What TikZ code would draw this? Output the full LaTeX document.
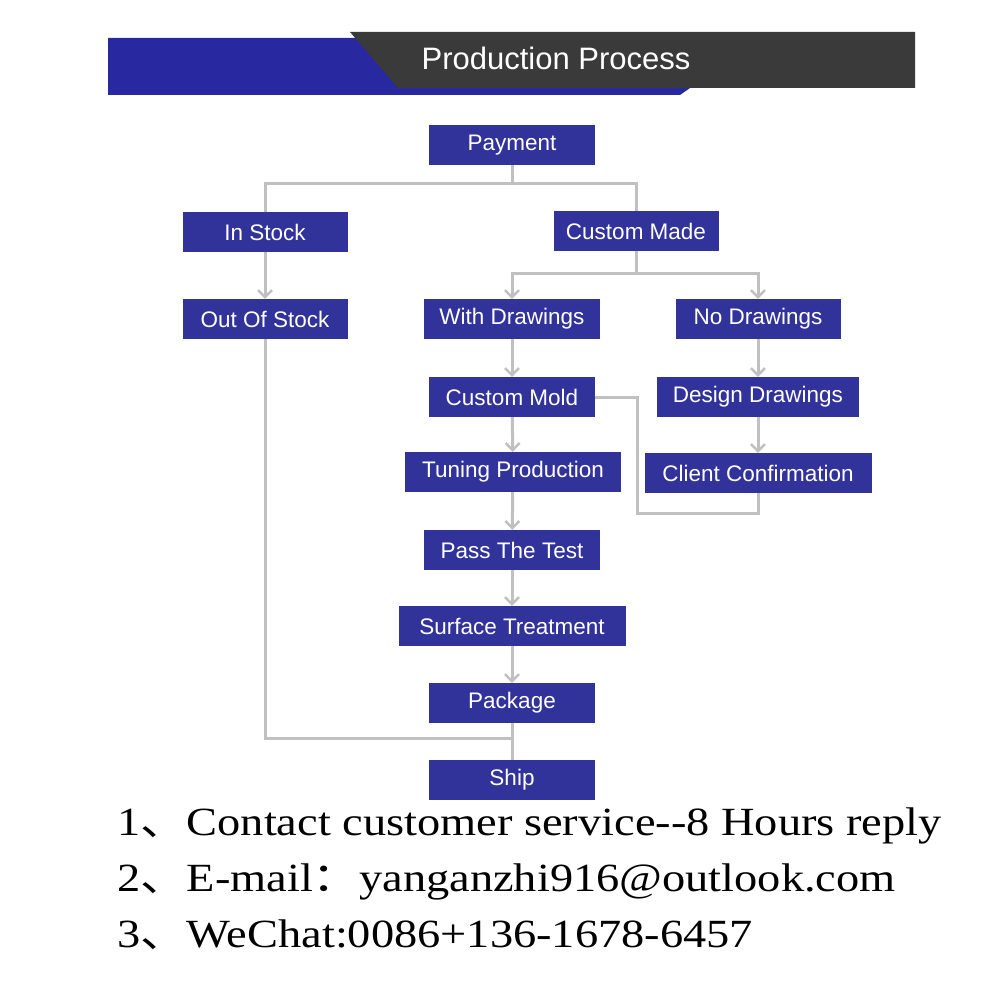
\documentclass[tikz,border=0pt]{standalone}
\usepackage{fontspec}
\setmainfont{Liberation Serif}
\newfontfamily\boxfont{Liberation Sans}
\newfontfamily\cjk{Noto Sans CJK SC}
\usetikzlibrary{arrows.meta}
\definecolor{stepblue}{RGB}{50,50,155}
\definecolor{bandblue}{RGB}{40,40,160}
\definecolor{banddark}{RGB}{58,58,58}
\definecolor{linkgray}{RGB}{192,192,192}
\tikzset{
  stepbox/.style={draw=none, fill=stepblue, text=white, font=\boxfont\fontsize{22.5}{25}\selectfont,
    minimum height=40, inner sep=0},
  link/.style={draw=linkgray, line width=3},
  flow/.style={link, -{Straight Barb[length=7,width=14,line width=2.5]}},
  note/.style={anchor=base west, xscale=1.16, font=\fontsize{40}{44}\selectfont}
}
\begin{document}
\begin{tikzpicture}[x=1pt,y=-1pt]
\useasboundingbox (0,0) rectangle (1000,1000);
\fill[white] (0,0) rectangle (1000,1000);

% header
    \fill[bandblue] (108,38) -- (690,38) -- (690,88) -- (680,95) -- (108,95) -- cycle;
    \fill[banddark] (350,32) -- (915,32) -- (915,88) -- (398,88) -- cycle;
    \node[text=white, font=\fontsize{31}{34}\selectfont\boxfont] (title) at (556,58) {Production Process};

% steps
    \node[stepbox, minimum width=166] (pay) at (512,145) {Payment};
    \node[stepbox, minimum width=165] (stock) at (265,232) {In Stock};
    \node[stepbox, minimum width=165] (custom) at (636,231) {Custom Made};
    \node[stepbox, minimum width=165] (out) at (265,319) {Out Of Stock};
    \node[stepbox, minimum width=176] (with) at (512,319) {With Drawings};
    \node[stepbox, minimum width=165] (nodraw) at (758,319) {No Drawings};
    \node[stepbox, minimum width=166] (mold) at (512,397) {Custom Mold};
    \node[stepbox, minimum width=202] (design) at (758,397) {Design Drawings};
    \node[stepbox, minimum width=216] (tune) at (513,472) {Tuning Production};
    \node[stepbox, minimum width=227] (client) at (758,473) {Client Confirmation};
    \node[stepbox, minimum width=176] (test) at (512,550) {Pass The Test};
    \node[stepbox, minimum width=227] (surface) at (512,626) {Surface Treatment};
    \node[stepbox, minimum width=166] (pack) at (512,703) {Package};
    \node[stepbox, minimum width=166] (ship) at (512,780) {Ship};

% connectors
    \coordinate (fork1) at (512,184);
    \coordinate (fork2) at (636,273);
    \coordinate (join) at (512,738);
    \draw[link] (pay) -- (fork1) -| (stock);
    \draw[link] (fork1) -| (custom);
    \draw[flow] (stock) -- (out);
    \draw[link] (custom) -- (fork2);
    \draw[flow] (fork2) -| (with);
    \draw[flow] (fork2) -| (nodraw);
    \draw[flow] (with) -- (mold);
    \draw[flow] (nodraw) -- (design);
    \draw[flow] (design) -- (client);
    \draw[link] (mold.east) -- (637,397) -- (637,513) -| (client.south);
    \draw[flow] (mold) -- (tune);
    \draw[flow] (tune) -- (test);
    \draw[flow] (test) -- (surface);
    \draw[flow] (surface) -- (pack);
    \draw[link] (pack) -- (ship);
    \draw[link] (out) |- (join);

% contact lines
    \node[note] (line1) at (113,835) {1{\cjk 、}Contact customer service-{}-8 Hours reply};
    \node[note] (line2) at (113,891) {2{\cjk 、}E-mail{\cjk ：}yanganzhi916@outlook.com};
    \node[note] (line3) at (113,947) {3{\cjk 、}WeChat:0086+136-1678-6457};
\end{tikzpicture}
\end{document}
